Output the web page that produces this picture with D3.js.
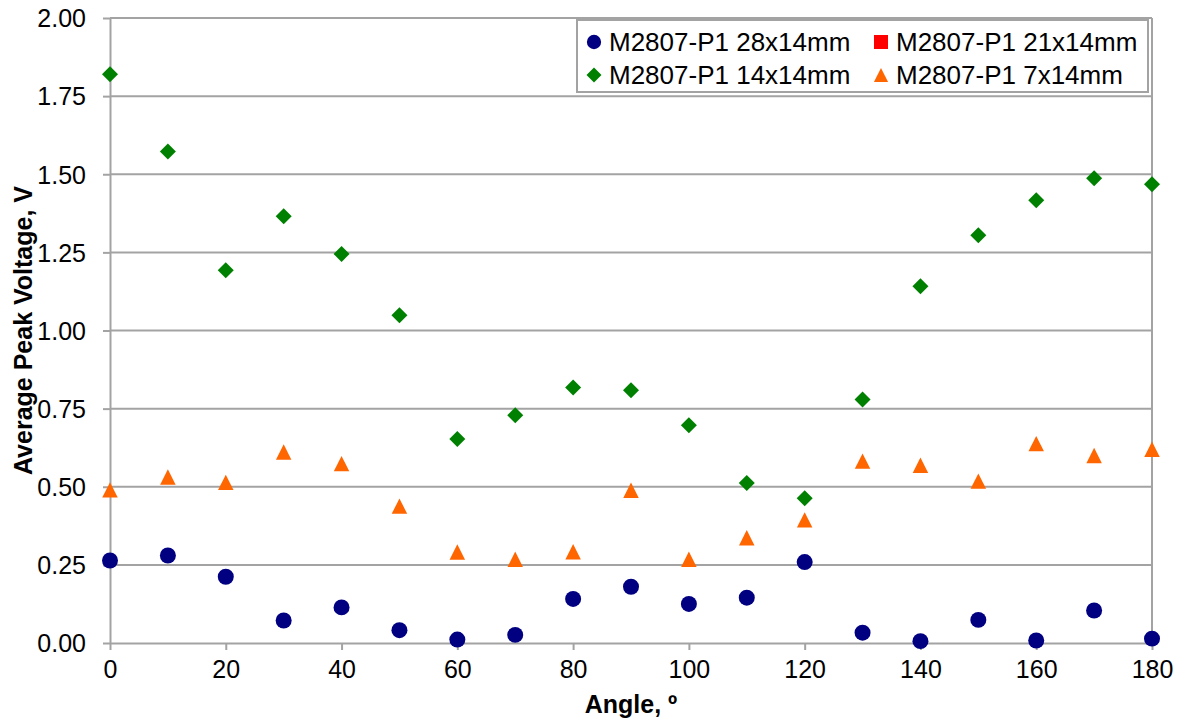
<!DOCTYPE html>
<html>
<head>
<meta charset="utf-8">
<script src="https://cdn.jsdelivr.net/npm/d3@7"></script>
<style>
  html, body { margin: 0; padding: 0; background: #fff; }
  svg { display: block; font-family: "Liberation Sans", Arial, sans-serif; }
</style>
</head>
<body>
<svg id="chart" width="1183" height="722"></svg>
<script>
const angles = [0,10,20,30,40,50,60,70,80,90,100,110,120,130,140,150,160,170,180];
const s28x14 = [0.264,0.280,0.212,0.072,0.114,0.041,0.011,0.026,0.141,0.180,0.125,0.145,0.259,0.033,0.006,0.074,0.008,0.104,0.014];
const s21x14 = [];
const s14x14 = [1.820,1.573,1.193,1.366,1.245,1.049,0.653,0.729,0.818,0.809,0.697,0.512,0.463,0.779,1.142,1.305,1.417,1.487,1.468];
const s7x14  = [0.490,0.531,0.514,0.611,0.574,0.438,0.291,0.268,0.292,0.489,0.268,0.337,0.394,0.582,0.569,0.518,0.638,0.600,0.620];
const seriesNames = ["M2807-P1 28x14mm","M2807-P1 21x14mm","M2807-P1 14x14mm","M2807-P1 7x14mm"];
const xTicks = [0,20,40,60,80,100,120,140,160,180];
const yTicks = [0,0.25,0.5,0.75,1.0,1.25,1.5,1.75,2.0];

const svg = d3.select("#chart");
const L = 110, R = 1152, T = 18, B = 643;
const x = d3.scaleLinear().domain([0,180]).range([L,R]);
const y = d3.scaleLinear().domain([0,2]).range([B,T]);
const gridColor = "#a3a3a3";

// custom triangle symbol (bounding-box centered)
const triangle = { draw(ctx, size) { const h = Math.sqrt(size); ctx.moveTo(0,-h/2); ctx.lineTo(h/2,h/2); ctx.lineTo(-h/2,h/2); ctx.closePath(); } };
const diamond = { draw(ctx, size) { const h = Math.sqrt(size)/2; ctx.moveTo(0,-h); ctx.lineTo(h,0); ctx.lineTo(0,h); ctx.lineTo(-h,0); ctx.closePath(); } };
const square = { draw(ctx, size) { const h = Math.sqrt(size)/2; ctx.rect(-h,-h,2*h,2*h); } };

const series = [
  {name: seriesNames[0], values: s28x14, color: "#000080", type: d3.symbolCircle, size: 201, lsize: 160},
  {name: seriesNames[1], values: s21x14, color: "#FF0000", type: square, size: 196, lsize: 196},
  {name: seriesNames[2], values: s14x14, color: "#008000", type: diamond, size: 256, lsize: 225},
  {name: seriesNames[3], values: s7x14, color: "#FF6600", type: triangle, size: 240, lsize: 200}
];

// gridlines
svg.append("g").selectAll("line").data(yTicks.filter(v => v > 0)).join("line")
  .attr("x1", L).attr("x2", R).attr("y1", d => y(d)).attr("y2", d => y(d))
  .attr("stroke", gridColor).attr("stroke-width", 2);
// right border
svg.append("line").attr("x1", R).attr("x2", R).attr("y1", T).attr("y2", B)
  .attr("stroke", gridColor).attr("stroke-width", 2);

// axes
const xAxis = svg.append("g").attr("transform", `translate(0,${B})`)
  .call(d3.axisBottom(x).tickValues(xTicks).tickSize(7).tickSizeOuter(0).tickPadding(10).tickFormat(d3.format("d")));
const yAxis = svg.append("g").attr("transform", `translate(${L},0)`)
  .call(d3.axisLeft(y).tickValues(yTicks).tickSize(7).tickSizeOuter(0).tickPadding(17).tickFormat(d3.format(".2f")));
[xAxis, yAxis].forEach(a => {
  a.select(".domain").attr("stroke", gridColor).attr("stroke-width", 2);
  a.selectAll(".tick line").attr("stroke", gridColor).attr("stroke-width", 2);
  a.selectAll(".tick text").attr("fill", "#000").style("font-size", "25px")
    .style("font-family", '"Liberation Sans", Arial, sans-serif');
});
yAxis.selectAll(".tick text").attr("dy", "0.35em");

// points
series.forEach(s => {
  const sym = d3.symbol().type(s.type).size(s.size);
  svg.append("g").selectAll("path").data(s.values.map((v,i) => [angles[i], v])).join("path")
    .attr("d", sym)
    .attr("transform", d => `translate(${x(d[0])},${y(d[1])})`)
    .attr("fill", s.color);
});

// axis titles
svg.append("text").attr("x", (L+R)/2).attr("y", 713).attr("text-anchor", "middle")
  .style("font-size", "25px").style("font-weight", "bold").text("Angle, º");
svg.append("text").attr("transform", `translate(32,${(T+B)/2}) rotate(-90)`).attr("text-anchor", "middle")
  .style("font-size", "25px").style("font-weight", "bold").text("Average Peak Voltage, V");

// legend
const lg = svg.append("g");
lg.append("rect").attr("x", 577).attr("y", 20).attr("width", 571).attr("height", 72)
  .attr("fill", "#fff").attr("stroke", gridColor).attr("stroke-width", 2);
const legPos = [[594,42],[881,42],[594,75],[881,75]];
series.forEach((s,i) => {
  const [lx, ly] = legPos[i];
  lg.append("path").attr("d", d3.symbol().type(s.type).size(s.lsize)())
    .attr("transform", `translate(${lx},${ly})`).attr("fill", s.color);
  lg.append("text").attr("x", lx + 15).attr("y", ly).attr("dy", "0.35em")
    .style("font-size", "26px").text(s.name);
});
</script>
</body>
</html>
